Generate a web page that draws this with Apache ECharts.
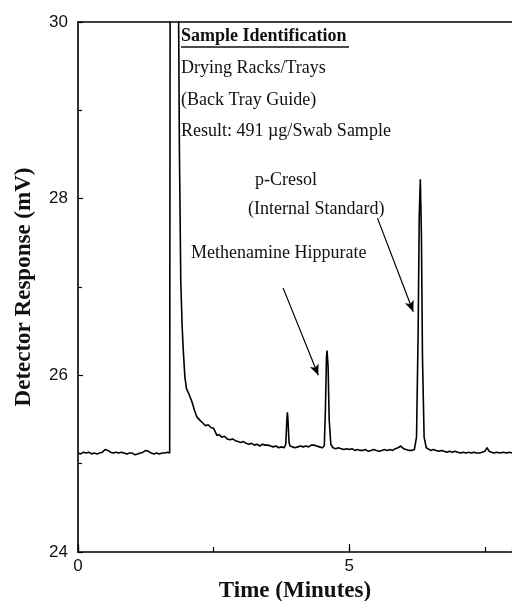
<!DOCTYPE html>
<html><head><meta charset="utf-8">
<script src="https://cdn.jsdelivr.net/npm/echarts@6/dist/echarts.min.js"></script>
<style>html,body{margin:0;padding:0;background:#fff}#c{width:512px;height:601px}</style>
</head><body><div id="c"></div>
<script>
// Time (minutes)
var times = [
0.00,0.05,0.10,0.15,0.20,0.25,0.30,0.35,0.40,0.45,0.50,0.55,0.60,0.65,0.70,0.75,0.80,0.85,0.90,0.95,
1.00,1.05,1.10,1.15,1.20,1.25,1.30,1.35,1.40,1.45,1.50,1.55,1.60,1.65,1.69,
1.70,1.72,1.80,1.85,1.87,1.895,1.92,1.94,1.97,2.00,2.05,2.10,2.15,2.19,2.25,2.30,2.35,2.40,2.45,2.50,
2.53,2.56,2.60,2.65,2.70,2.75,2.80,2.85,2.90,2.95,3.00,3.05,3.10,3.15,3.20,3.25,3.30,3.35,3.40,3.45,
3.50,3.55,3.60,3.65,3.70,3.75,3.80,3.83,3.85,3.86,3.87,3.89,3.91,3.95,4.00,4.05,4.10,4.15,4.20,4.25,
4.30,4.35,4.40,4.45,4.50,4.54,4.56,4.58,4.59,4.61,4.63,4.66,4.70,4.75,4.80,4.85,4.90,4.95,5.00,5.05,
5.10,5.15,5.20,5.25,5.30,5.35,5.40,5.45,5.50,5.55,5.60,5.65,5.70,5.75,5.80,5.85,5.90,5.95,6.00,6.05,
6.10,6.15,6.20,6.24,6.27,6.29,6.31,6.33,6.35,6.38,6.42,6.45,6.50,6.55,6.60,6.65,6.70,6.75,6.80,6.85,
6.90,6.95,7.00,7.05,7.10,7.15,7.20,7.25,7.30,7.35,7.40,7.45,7.50,7.54,7.58,7.62,7.67,7.72,7.78,7.84,
7.90,7.95,8.00
];
// Detector response (mV)
var response = [
25.12,25.11,25.13,25.12,25.13,25.11,25.12,25.11,25.12,25.13,25.16,25.15,25.13,25.12,25.13,25.12,25.13,25.12,25.11,25.12,
25.12,25.10,25.11,25.12,25.13,25.15,25.14,25.12,25.11,25.12,25.11,25.12,25.12,25.13,25.12,
31.50,36.00,34.00,30.50,28.50,27.05,26.55,26.29,25.98,25.85,25.78,25.70,25.60,25.53,25.49,25.46,25.43,25.44,25.41,25.40,
25.36,25.32,25.33,25.30,25.31,25.28,25.27,25.28,25.26,25.25,25.24,25.25,25.23,25.22,25.23,25.21,25.22,25.20,25.22,25.21,
25.21,25.20,25.19,25.20,25.18,25.19,25.18,25.22,25.50,25.58,25.50,25.24,25.20,25.19,25.18,25.19,25.20,25.19,25.20,25.19,
25.21,25.21,25.20,25.19,25.18,25.20,25.60,26.20,26.28,26.10,25.50,25.22,25.18,25.17,25.18,25.17,25.16,25.17,25.16,25.17,
25.15,25.16,25.15,25.15,25.16,25.14,25.15,25.16,25.15,25.14,25.15,25.16,25.15,25.16,25.15,25.17,25.18,25.20,25.17,25.16,
25.15,25.15,25.16,25.30,26.50,27.80,28.22,27.60,26.20,25.30,25.18,25.16,25.15,25.16,25.15,25.14,25.15,25.14,25.13,25.14,
25.13,25.14,25.13,25.12,25.13,25.12,25.13,25.12,25.13,25.12,25.12,25.13,25.14,25.18,25.14,25.13,25.12,25.13,25.12,25.13,
25.12,25.13,25.12
];
var xTicks = [0, 5];
var yTicks = [24, 26, 28, 30];
var infoLines = ['Sample Identification', 'Drying Racks/Trays', '(Back Tray Guide)', 'Result: 491 \u00b5g/Swab Sample'];
var peakLabels = ['p-Cresol', '(Internal Standard)', 'Methenamine Hippurate'];
// arrows [fromTime, fromResp, toTime, toResp]
var arrowMeth = [3.78, 26.99, 4.43, 26.00];
var arrowCres = [5.52, 27.78, 6.18, 26.72];

var data = times.map(function (t, i) { return [t, response[i]]; });
var serif = 'Liberation Serif';
var sans = 'Liberation Sans';

var chart = echarts.init(document.getElementById('c'), null, {renderer: 'canvas'});
var txt = function (s, x, y, bold) {
  return {type: 'text', left: x, top: y, style: {text: s, fill: '#111', font: (bold ? 'bold ' : '') + '18px "' + serif + '"'}};
};
chart.setOption({
  animation: false,
  backgroundColor: '#fff',
  grid: {left: 78, top: 22, right: 0, bottom: 49, show: false, containLabel: false, outerBoundsMode: 'none'},
  xAxis: [{
    type: 'value', min: 0, max: 8, interval: 5,
    name: 'Time (Minutes)', nameLocation: 'middle', nameGap: 26,
    nameTextStyle: {fontFamily: serif, fontWeight: 'bold', fontSize: 23, color: '#111'},
    axisLine: {lineStyle: {color: '#000', width: 1.6}},
    axisTick: {inside: true, length: 8, lineStyle: {color: '#000', width: 1.2}},
    axisLabel: {fontFamily: sans, fontSize: 17, color: '#111', margin: 6, showMaxLabel: false,
      formatter: function (v) { return xTicks.indexOf(v) >= 0 ? String(v) : ''; }},
    splitLine: {show: false}
  }, {
    type: 'value', min: 0, max: 8, interval: 2.5, position: 'bottom',
    axisLine: {show: false},
    axisTick: {inside: true, length: 5, lineStyle: {color: '#000', width: 1.2}},
    axisLabel: {show: false}, splitLine: {show: false}
  }, {
    type: 'value', min: 0, max: 8, position: 'top',
    axisLine: {show: true, lineStyle: {color: '#000', width: 1.6}},
    axisTick: {show: false}, axisLabel: {show: false}, splitLine: {show: false}
  }],
  yAxis: {
    type: 'value', min: 24, max: 30, interval: 2,
    name: 'Detector Response (mV)', nameLocation: 'middle', nameGap: 42,
    nameTextStyle: {fontFamily: serif, fontWeight: 'bold', fontSize: 23, color: '#111'},
    axisLine: {lineStyle: {color: '#000', width: 1.6}},
    axisTick: {inside: true, length: 5, lineStyle: {color: '#000', width: 1.2}},
    minorTick: {show: true, splitNumber: 2, length: 4, lineStyle: {color: '#000', width: 1.2}},
    axisLabel: {fontFamily: sans, fontSize: 17, color: '#111', margin: 10,
      formatter: function (v) { return yTicks.indexOf(v) >= 0 ? String(v) : ''; }},
    splitLine: {show: false}
  },
  series: [{
    type: 'line', data: data, symbol: 'none', clip: true,
    lineStyle: {color: '#000', width: 1.6},
    markLine: {
      silent: true, symbol: ['none', 'arrow'], symbolSize: [7, 11],
      lineStyle: {color: '#000', width: 1.2, type: 'solid'}, label: {show: false},
      data: [
        [{coord: [arrowMeth[0], arrowMeth[1]]}, {coord: [arrowMeth[2], arrowMeth[3]]}],
        [{coord: [arrowCres[0], arrowCres[1]]}, {coord: [arrowCres[2], arrowCres[3]]}]
      ]
    }
  }],
  graphic: [
    txt(infoLines[0], 181, 27, true),
    {type: 'line', shape: {x1: 181, y1: 47, x2: 349, y2: 47}, style: {stroke: '#111', lineWidth: 1.3}},
    txt(infoLines[1], 181, 59), txt(infoLines[2], 181, 91), txt(infoLines[3], 181, 122),
    txt(peakLabels[0], 255, 171), txt(peakLabels[1], 248, 200), txt(peakLabels[2], 191, 244)
  ]
});
</script></body></html>
